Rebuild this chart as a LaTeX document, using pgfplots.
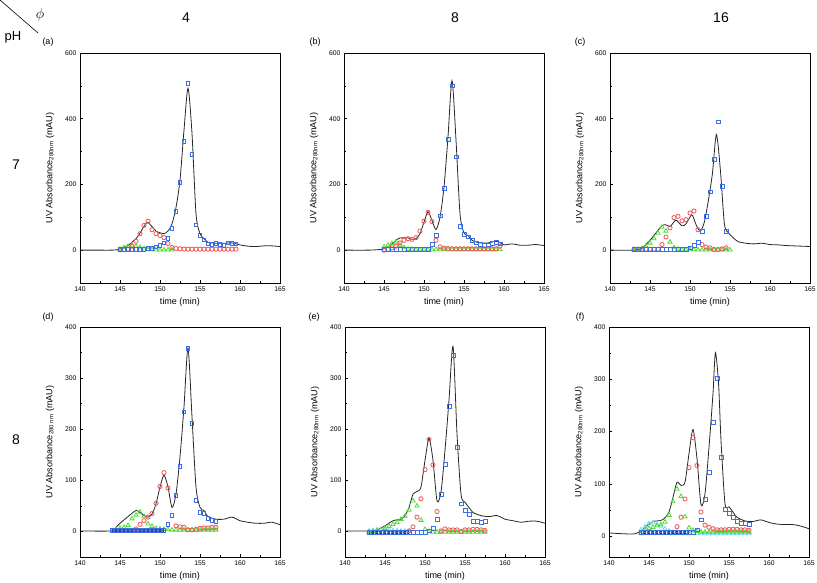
\documentclass[border=0pt]{standalone}
\usepackage{fontspec}
\setmainfont{Liberation Sans}
\usepackage{pgfplots}
\pgfplotsset{compat=1.18}
\definecolor{bluec}{RGB}{60,110,230}
\definecolor{redc}{RGB}{240,85,85}
\definecolor{greenc}{RGB}{80,220,50}
\definecolor{cyanc}{RGB}{110,225,230}
\definecolor{navyc}{RGB}{50,40,130}
\pgfplotsset{
  base/.style={scale only axis, width=200pt, height=230pt, xmin=140, xmax=165,
    xtick={140,145,...,165}, minor x tick num=1, minor y tick num=1,
    tick align=inside, xtick pos=left, ytick pos=left,
    major tick length=3pt, minor tick length=1.8pt,
    tick label style={font=\fontsize{6.8}{7}\selectfont},
    label style={font=\fontsize{9}{10}\selectfont},
    xlabel={time (min)},
    xlabel style={at={(axis description cs:0.5,-0.085)}, anchor=center},
    ylabel style={at={(axis description cs:-0.15,0.5)}, anchor=center},
    axis line style={line width=0.7pt},
    every tick/.style={black, line width=0.5pt},
    /pgf/number format/assume math mode=true, clip=true},
  top/.style={base, ymin=-100, ymax=600, ytick={0,200,400,600},
    ylabel={UV Absorbance\textsubscript{280nm} (mAU)}},
  bot/.style={base, ymin=-50, ymax=400, ytick={0,100,...,400},
    ylabel={UV Absorbance\textsubscript{280nm} (mAU)}},
  blk/.style={black!85, line width=0.8pt, smooth, tension=0.45, no marks},
  bsq/.style={only marks, mark=square, mark size=1.9pt, color=bluec, mark options={line width=0.8pt}},
  rci/.style={only marks, mark=o, mark size=2.1pt, color=redc, mark options={line width=0.8pt}},
  gtr/.style={only marks, mark=triangle, mark size=2.4pt, color=greenc, mark options={line width=0.8pt}},
  ctr/.style={only marks, mark=triangle, mark size=2.4pt, color=cyanc, mark options={line width=0.8pt}},
  nci/.style={only marks, mark=o, mark size=2.0pt, color=navyc, mark options={line width=0.8pt}},
}
\begin{document}
\begin{tikzpicture}
\useasboundingbox (0,0) rectangle (817pt,583pt);
% header
\draw[line width=0.6pt] (0pt,583pt) -- (38pt,550pt);
\node[font=\fontsize{15}{16}\selectfont] at (40pt,568pt) {$\phi$};
\node[font=\fontsize{13}{14}\selectfont] at (13pt,546pt) {pH};
\node[font=\fontsize{14}{15}\selectfont] at (186pt,565pt) {4};
\node[font=\fontsize{14}{15}\selectfont] at (455pt,565pt) {8};
\node[font=\fontsize{14}{15}\selectfont] at (721pt,565pt) {16};
\node[font=\fontsize{14}{15}\selectfont] at (16pt,418pt) {7};
\node[font=\fontsize{14}{15}\selectfont] at (16pt,143pt) {8};
\node[font=\fontsize{9}{10}\selectfont] at (48pt,541pt) {(a)};
\node[font=\fontsize{9}{10}\selectfont] at (315pt,541pt) {(b)};
\node[font=\fontsize{9}{10}\selectfont] at (580pt,541pt) {(c)};
\node[font=\fontsize{9}{10}\selectfont] at (48pt,266pt) {(d)};
\node[font=\fontsize{9}{10}\selectfont] at (314pt,266pt) {(e)};
\node[font=\fontsize{9}{10}\selectfont] at (580pt,266pt) {(f)};

% (a)
\begin{axis}[top, at={(80pt,300pt)}, anchor=south west]
\addplot[blk] coordinates {(140,0)(142,0)(144,0)(144.5,1)(145,4)(146,14)(147,35)(147.5,52)(148,72)(148.4,85)(149,72)(149.5,58)(150,53)(150.5,50)(151,58)(151.5,80)(152,130)(152.5,213)(153,365)(153.5,493)(154,355)(154.5,111)(155,50)(155.5,35)(156,24)(157,21)(158,21)(159,22)(160,16)(161,12)(162,11)(163,13)(164,13)(165,11)};
\addplot[gtr] coordinates {(145,3)(145.5,8)(146,12)(146.5,14)(147,12)(147.5,8)(148,4)(148.5,2)(149,2)(149.5,1)(150,1)(150.5,1)(151,1)(151.5,1)};
\addplot[rci] coordinates {(145,1)(145.5,1)(146,3)(146.5,12)(147,27)(147.5,50)(148,75)(148.5,88)(149,62)(149.5,50)(150,45)(150.5,38)(151,20)(151.5,8)(152,5)(152.5,4)(153,3)(153.5,3)(154,3)(154.5,3)(155,3)(155.5,3)(156,3)(156.5,3)(157,3)(157.5,3)(158,3)(158.5,3)(159,3)(159.5,3)};
\addplot[bsq] coordinates {(145,2)(145.5,2)(146,2)(146.5,2)(147,2)(147.5,3)(148,3)(148.5,5)(149,6)(149.5,10)(150,15)(150.5,22)(151,36)(151.5,66)(152,117)(152.5,205)(153,330)(153.5,507)(154,292)(154.5,77)(155,45)(155.5,31)(156,19)(156.5,17)(157,20)(157.5,17)(158,15)(158.5,22)(159,20)(159.5,19)};
\end{axis}

% (b)
\begin{axis}[top, at={(344pt,300pt)}, anchor=south west]
\addplot[blk] coordinates {(140,0)(143,0)(144,1)(145,4)(146,19)(146.5,30)(147,37)(148,37)(148.5,33)(149,35)(149.5,50)(150,85)(150.5,117)(151,90)(151.5,63)(152,100)(152.5,192)(153,345)(153.5,516)(154,335)(154.5,111)(155,52)(155.5,45)(156,30)(157,22)(158,22)(159,27)(159.5,23)(160,16)(161,19)(162,15)(163,15)(164,17)(165,14)};
\addplot[gtr] coordinates {(145,10)(145.5,15)(146,20)(146.5,25)(147,15)(147.5,8)(148,3)(148.5,2)(149,2)(149.5,2)(150,2)(150.5,2)(151,2)(151.5,2)(152,2)(152.5,2)(153,2)(153.5,2)(154,2)(154.5,2)(155,2)(155.5,2)(156,2)(156.5,2)(157,2)(157.5,2)(158,2)(158.5,2)(159,2)(159.5,2)};
\addplot[rci] coordinates {(145,0)(145.5,2)(146,7)(146.5,12)(147,22)(147.5,30)(148,35)(148.5,33)(149,38)(149.5,58)(150,88)(150.5,115)(151,87)(151.5,30)(152,10)(152.5,6)(153,5)(153.5,4)(154,4)(154.5,4)(155,4)(155.5,4)(156,4)(156.5,4)(157,4)(157.5,4)(158,4)(158.5,4)(159,4)(159.5,12)};
\addplot[bsq] coordinates {(145,2)(145.5,2)(146,2)(146.5,2)(147,2)(147.5,2)(148,2)(148.5,2)(149,2)(149.5,2)(150,2)(150.5,2)(151,17)(151.5,46)(152,104)(152.5,189)(153,337)(153.5,500)(154,284)(154.5,73)(155,47)(155.5,40)(156,30)(156.5,22)(157,17)(157.5,15)(158,16)(158.5,20)(159,23)(159.5,19)};
\end{axis}

% (c)
\begin{axis}[top, at={(610pt,300pt)}, anchor=south west]
\addplot[blk] coordinates {(140,0)(143,0)(143.5,2)(144,6)(144.5,17)(145,30)(145.5,45)(146,60)(146.5,75)(147,77)(147.5,72)(148,86)(148.3,91)(149,74)(149.5,80)(150,101)(150.3,106)(150.8,75)(151.3,58)(151.8,86)(152.3,152)(152.8,233)(153.3,352)(153.8,243)(154.3,80)(154.8,53)(155.3,40)(156,26)(157,21)(158,19)(159,21)(160,17)(161,16)(162,14)(163,13)(164,12)(165,11)};
\addplot[gtr] coordinates {(143,0)(143.5,2)(144,5)(144.5,12)(145,22)(145.5,35)(146,52)(146.5,70)(147,58)(147.5,25)(148,8)(148.5,3)(149,2)(149.5,2)(150,2)(150.5,2)(151,1)(151.5,1)(152,1)(152.5,1)(153,1)(153.5,1)(154,1)(154.5,1)(155,1)};
\addplot[rci] coordinates {(143,3)(143.5,3)(144,3)(144.5,3)(145,3)(145.5,3)(146,3)(146.5,17)(147,40)(147.5,68)(148,99)(148.5,103)(149,89)(149.5,93)(150,113)(150.5,119)(151,62)(151.5,17)(152,9)(152.5,7)(153,2)(153.5,2)(154,4)(154.5,7)};
\addplot[bsq] coordinates {(143,3)(143.5,3)(144,3)(144.5,3)(145,3)(145.5,3)(146,3)(146.5,3)(147,3)(147.5,3)(148,3)(148.5,3)(149,3)(149.5,3)(150,7)(150.5,14)(151,24)(151.5,57)(152,103)(152.5,177)(153,276)(153.5,390)(154,194)(154.5,57)};
\end{axis}

% (d)
\begin{axis}[bot, at={(80pt,26pt)}, anchor=south west, ylabel={UV Absorbance\textsubscript{280 nm} (mAU)}]
\addplot[blk] coordinates {(140,1)(144,1)(144.5,8)(145,16)(146,29)(147,41)(147.5,37)(148,31)(148.5,28)(149,34)(149.5,54)(150,87)(150.5,110)(151,87)(151.5,47)(152,73)(152.5,146)(153,244)(153.5,359)(154,224)(154.5,87)(155,47)(155.5,41)(156,29)(157,24)(158,24)(159,28)(160,21)(161,18)(162,16)(163,16)(164,18)(165,13)};
\addplot[gtr] coordinates {(144,2)(144.5,4)(145,6)(145.5,8)(146,12)(146.5,25)(147,32)(147.5,38)(148,30)(148.5,15)(149,10)(149.5,6)(150,5)(150.5,4)(151,4)(151.5,3)(152,3)(152.5,3)(153,3)(153.5,3)(154,3)(154.5,3)(155,3)(155.5,3)(156,3)(156.5,3)(157,3)};
\addplot[nci] coordinates {(144.25,2)(144.75,2)(145.25,2)(145.75,2)(146.25,2)(146.75,2)(147.25,2)(147.75,2)(148.25,2)(148.75,2)(149.25,2)(149.75,2)(150.25,2)};
\addplot[rci] coordinates {(147,5)(147.5,14)(148,21)(148.5,28)(149,35)(149.5,55)(150,88)(150.5,115)(151,85)(152,11)(152.5,9)(153,8)(153.5,3)(154,3)(154.5,4)(155,6)(155.5,7)(156,7)(156.5,8)(157,8)};
\addplot[bsq] coordinates {(144,2)(144.5,2)(145,2)(145.5,2)(146,2)(146.5,2)(147,2)(147.5,2)(148,2)(148.5,2)(149,2)(149.5,2)(150,2)(150.5,2)(151,13)(151.5,31)(152,71)(152.5,128)(153,234)(153.5,358)(154,212)(154.5,60)(155,37)(155.5,35)(156,26)(156.5,21)(157,19)};
\end{axis}

% (e)
\begin{axis}[bot, at={(345pt,26pt)}, anchor=south west]
\addplot[blk] coordinates {(140,1)(143,1)(144,3)(145,11)(146,21)(147,24)(147.5,31)(148,47)(148.5,73)(149,78)(149.5,87)(150,139)(150.5,182)(151,139)(151.5,60)(152,77)(152.5,159)(153,257)(153.5,362)(154,191)(154.5,73)(155,57)(155.5,47)(156,37)(157,31)(158,29)(159,31)(160,24)(161,21)(162,18)(163,20)(164,20)(165,16)};
\addplot[ctr] coordinates {(143,1)(143.5,2)(144,3)(144.5,4)(145,4)(145.5,3)(146,2)(146.5,2)(147,1)(147.5,1)(148,0)};
\addplot[gtr] coordinates {(143,-1)(143.5,0)(144,2)(144.5,4)(145,6)(145.5,10)(146,14)(146.5,18)(147,24)(147.5,30)(148,42)(148.5,60)(149,50)(149.5,22)(150,4)(150.5,0)(151,-1)(151.5,-1)(152,-1)(152.5,-1)(153,-1)(153.5,-1)(154,-1)(154.5,-1)(155,-1)(155.5,-1)(156,-1)(156.5,-1)(157,-1)(157.5,-1)};
\addplot[nci] coordinates {(143.25,-2)(143.75,-2)(144.25,-2)(144.75,-2)(145.25,-2)(145.75,-2)(146.25,-2)(146.75,-2)(147.25,-2)(147.75,-2)};
\addplot[rci] coordinates {(148,1)(148.5,9)(149,28)(149.5,64)(150,121)(150.5,180)(151,130)(151.5,39)(152,1)(152.5,5)(153,3)(153.5,3)(154,3)(154.5,0)(155,3)(155.5,3)(156,4)(156.5,4)(157,3)(157.5,2)};
\addplot[bsq] coordinates {(143,-2)(143.5,-2)(144,-2)(144.5,-2)(145,-2)(145.5,-2)(146,-2)(146.5,-2)(147,-2)(147.5,-2)(148,-2)(148.5,-2)(149,-2)(149.5,-2)(150,-2)(150.5,1)(151,6)(151.5,24)(152,72)(152.5,131)(153,245)(153.5,344)(154,165)(154.5,54)(155,41)(155.5,34)(156,20)(156.5,19)(157,18)(157.5,19)};
\end{axis}

% (f)
\begin{axis}[bot, ymin=-40, at={(609pt,26pt)}, anchor=south west]
\addplot[blk] coordinates {(140,6)(143,4)(144,10)(145,23)(145.5,28)(146.5,30)(147,35)(147.5,46)(148,74)(148.5,103)(149,97)(149.5,103)(150,158)(150.5,204)(151,148)(151.5,60)(152,81)(152.5,170)(153,273)(153.3,351)(153.7,290)(154,183)(154.5,62)(155,56)(155.5,46)(156,36)(157,29)(158,28)(159,31)(160,26)(161,23)(162,22)(163,22)(164,19)(165,14)};
\addplot[ctr] coordinates {(144,12)(144.5,18)(145,24)(145.5,26)(146,22)(146.5,18)(147,14)(147.5,10)(148,7)(148.5,6)(149,5)(149.5,5)(150,5)(150.5,5)(151,5)(151.5,5)(152,5)(152.5,5)(153,5)(153.5,5)(154,5)(154.5,5)(155,5)(155.5,5)(156,5)(156.5,5)(157,5)(157.5,5)};
\addplot[gtr] coordinates {(144,5)(144.5,12)(145,15)(145.5,17)(146,20)(146.5,22)(147,27)(147.5,40)(148,66)(148.5,90)(149,76)(149.5,37)(150,16)(150.5,11)(151,9)(151.5,8)(152,8)(152.5,8)(153,8)(153.5,8)(154,8)(154.5,8)(155,8)(155.5,8)(156,8)(156.5,8)(157,8)(157.5,8)};
\addplot[nci] coordinates {(144.25,7)(144.75,7)(145.25,7)(145.75,7)(146.25,7)(146.75,7)(147.25,7)(147.75,7)(148.25,7)(148.75,7)(149.25,7)(149.75,7)};
\addplot[rci] coordinates {(148.5,18)(149,36)(149.5,71)(150,131)(150.5,188)(151,135)(151.5,46)(152,21)(152.5,17)(153,14)(153.5,12)(154,12)(154.5,12)(155,13)(155.5,13)(156,13)(156.5,12)(157,12)(157.5,11)};
\addplot[bsq] coordinates {(144,7)(144.5,7)(145,7)(145.5,7)(146,7)(146.5,7)(147,7)(147.5,7)(148,7)(148.5,7)(149,7)(149.5,7)(150,7)(150.5,7)(151,12)(151.5,31)(152,70)(152.5,122)(153,218)(153.5,301)(154,150)(154.5,51)(155,44)(155.5,36)(156,28)(156.5,24)(157,24)(157.5,22)};
\end{axis}
\end{tikzpicture}
\end{document}
